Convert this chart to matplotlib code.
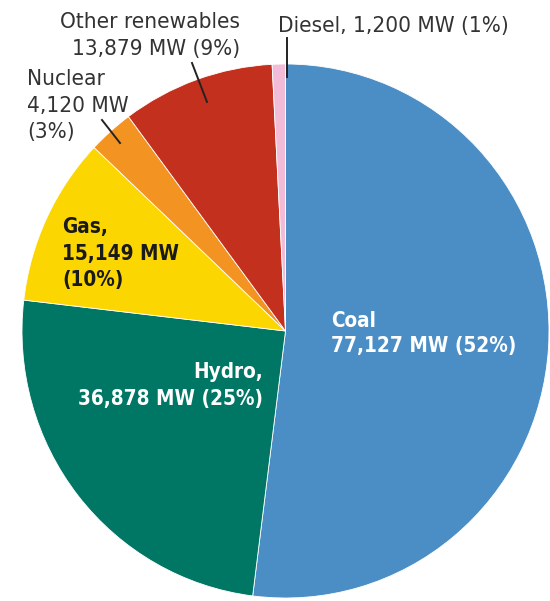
import matplotlib
matplotlib.use('Agg')
from matplotlib import pyplot as plt
from matplotlib.lines import Line2D
from matplotlib import font_manager
from matplotlib.font_manager import FontProperties

# data
sources = ['Coal', 'Hydro', 'Gas', 'Nuclear', 'Other renewables', 'Diesel']
capacity_mw = [77127, 36878, 15149, 4120, 13879, 1200]
shares = [52, 25, 10, 3, 9, 1]
colors = ['#4b8ec6', '#007664', '#fcd600', '#f39322', '#c4301e', '#f2bcd8']

STRETCH_RANK = {'condensed': 0, 'semi-condensed': 2, 'extra-condensed': 1}


def narrow_font(bold):
    # look for a condensed sans face, else fall back to Liberation Sans
    best = None
    for f in font_manager.fontManager.ttflist:
        n = f.name
        fn = f.fname.lower()
        if 'Serif' in n or 'Mono' in n or f.style != 'normal':
            continue
        if 'semicondensed' in fn:
            st = 'semi-condensed'
        elif 'extracondensed' in fn:
            st = 'extra-condensed'
        elif 'condensed' in fn or 'narrow' in fn or 'Narrow' in n:
            st = 'condensed'
        else:
            st = f.stretch
        if st not in STRETCH_RANK:
            continue
        w = f.weight if isinstance(f.weight, int) else 400
        if bold:
            if not 600 <= w <= 750:
                continue
        elif not 400 <= w <= 500:
            continue
        rank = (STRETCH_RANK[st], abs(w - (700 if bold else 400)))
        if best is None or rank < best[0]:
            best = (rank, f.fname)
    if best:
        return FontProperties(fname=best[1])
    return FontProperties(family='Liberation Sans',
                          weight='bold' if bold else 'normal')


reg_font = narrow_font(False)
bold_font = narrow_font(True)

W, H = 550, 601
fig = plt.figure(figsize=(W / 100, H / 100), dpi=100)
renderer = fig.canvas.get_renderer()

# pie area in pixels: x 22..549, y 64..598
ax = fig.add_axes([22 / W, 1 - 598 / H, 527 / W, 534 / H])
ax.pie(capacity_mw, colors=colors, startangle=90, counterclock=False,
       radius=1, wedgeprops=dict(edgecolor='white', linewidth=0.6))
ax.set_aspect('auto')
ax.set_xlim(-1, 1)
ax.set_ylim(-1, 1)
ax.axis('off')


def px(x, y):
    return x / W, 1 - y / H


def fit_size(s, fp, width_px):
    fp = fp.copy()
    fp.set_size(10)
    t = fig.text(0, 0, s, fontproperties=fp)
    w = t.get_window_extent(renderer).width
    t.remove()
    return 10 * width_px / w


def label(x, baselines, lines, fp, size, **kw):
    fp = fp.copy()
    fp.set_size(size)
    for yb, s in zip(baselines, lines):
        fx, fy = px(x, yb)
        fig.text(fx, fy, s, fontproperties=fp, va='baseline', **kw)


def leader(x0, y0, x1, y1):
    a, b = px(x0, y0)
    c, d = px(x1, y1)
    fig.add_artist(Line2D([a, c], [b, d], color='#222222', lw=1.4))


def fmt(i):
    return f'{capacity_mw[i]:,} MW ({shares[i]}%)'


bsize = fit_size(fmt(0), bold_font, 186)
rsize = fit_size(f'{sources[5]}, {fmt(5)}', reg_font, 231)

# inside labels
label(331, [327, 352], [sources[0], fmt(0)], bold_font, bsize, color='white')
label(263, [378, 405], [sources[1] + ',', fmt(1)], bold_font, bsize,
      color='white', ha='right')
label(62, [233, 260, 286],
      [sources[2] + ',', f'{capacity_mw[2]:,} MW', f'({shares[2]}%)'],
      bold_font, bsize, color='#1a1a1a')

# outside labels
label(240, [28, 55], [sources[4], fmt(4)], reg_font, rsize,
      color='#333333', ha='right')
label(27, [85, 112, 138],
      [sources[3], f'{capacity_mw[3]:,} MW', f'({shares[3]}%)'],
      reg_font, rsize, color='#333333')
label(278, [32], [f'{sources[5]}, {fmt(5)}'], reg_font, rsize,
      color='#333333')

leader(192, 63, 207, 102)
leader(102, 120, 120, 143)
leader(287, 38, 287, 77)

fig.savefig('out.png', dpi=100)
